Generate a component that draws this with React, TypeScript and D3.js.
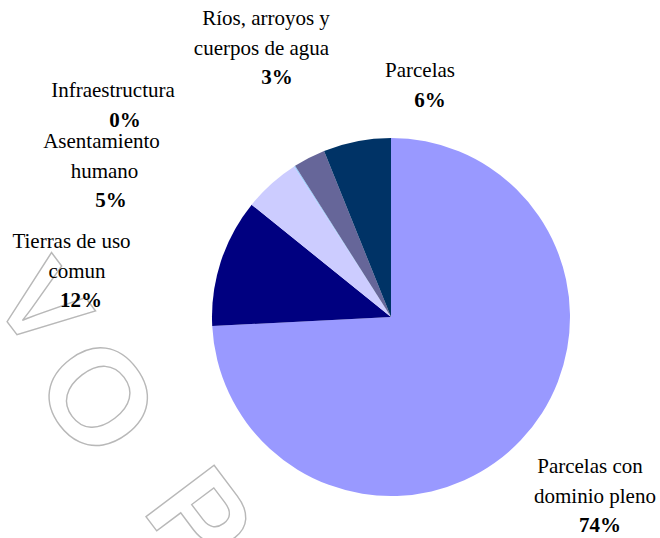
import React from 'react';
import * as d3 from 'd3';

// slice order follows the source sheet: clockwise from 12 o'clock
const categories = [
  'Parcelas con\ndominio pleno',
  'Tierras de uso\ncomun',
  'Asentamiento\nhumano',
  'Infraestructura',
  'Ríos, arroyos y\ncuerpos de agua',
  'Parcelas',
];
const values = [74.2, 11.6, 5.1, 0.1, 2.9, 6.1];
const colors = ['#9999FF', '#000080', '#CCCCFF', '#99CCFF', '#666699', '#003366'];

// label block layout: first-line centre x, first baseline y, shift of line 2, shift of the % line
const labelLayout = [
  { x: 590, y: 473, dx2: 5, dxPct: 10 },
  { x: 71.5, y: 248, dx2: 5.5, dxPct: 9.5 },
  { x: 101.5, y: 148, dx2: 3, dxPct: 9.5 },
  { x: 113, y: 97, dx2: 0, dxPct: 12 },
  { x: 266, y: 25, dx2: -4.5, dxPct: 11 },
  { x: 420, y: 77, dx2: 0, dxPct: 10 },
];

// faint outlined watermark letters
const watermark = [
  { ch: 'V', x: 12, y: 328, size: 112 },
  { ch: 'O', x: 61, y: 425, size: 135 },
  { ch: 'P', x: 166, y: 543, size: 124 },
];

const W = 660;
const H = 538;
const cx = 391;
const cy = 317;
const radius = 179;
const lineH = 29.5;

const serif = "'Liberation Serif', 'Times New Roman', Times, 'DejaVu Serif', serif";

const App: React.FC = () => {
  const pie = d3.pie<number>().sort(null).startAngle(0).endAngle(2 * Math.PI);
  const arcs = pie(values);
  const arc = d3.arc<d3.PieArcDatum<number>>().innerRadius(0).outerRadius(radius);
  const total = d3.sum(values);

  return (
    <svg
      width={W}
      height={H}
      style={{ position: 'absolute', left: 0, top: 0, background: '#fff' }}
    >
      <g>
        {watermark.map((w, i) => (
          <text
            key={i}
            transform={`translate(${w.x},${w.y}) rotate(53)`}
            textAnchor="middle"
            style={{ fontFamily: "'Liberation Sans', Arial, sans-serif", fontWeight: 'bold', fontSize: w.size }}
            fill="none"
            stroke="#b8b8b8"
            strokeWidth={1.4}
          >
            {w.ch}
          </text>
        ))}
      </g>
      <g transform={`translate(${cx},${cy})`}>
        {arcs.map((a, i) => (
          <path key={i} d={arc(a) || ''} fill={colors[i]} />
        ))}
      </g>
      <g style={{ fontFamily: serif, fontSize: 21 }} fill="#000">
        {categories.map((c, i) => {
          const lines = c.split('\n');
          const lay = labelLayout[i];
          const pct = `${Math.round((values[i] / total) * 100)}%`;
          return (
            <g key={i}>
              {lines.map((ln, j) => (
                <text
                  key={j}
                  x={lay.x + (j === 1 ? lay.dx2 : 0)}
                  y={lay.y + j * lineH}
                  textAnchor="middle"
                >
                  {ln}
                </text>
              ))}
              <text
                x={lay.x + lay.dxPct}
                y={lay.y + lines.length * lineH}
                textAnchor="middle"
                style={{ fontWeight: 'bold' }}
              >
                {pct}
              </text>
            </g>
          );
        })}
      </g>
    </svg>
  );
};

export default App;
